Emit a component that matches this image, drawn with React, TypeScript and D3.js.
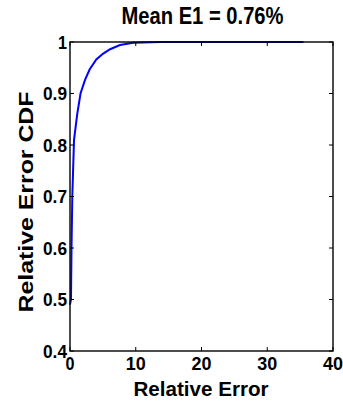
import React from "react";
import * as d3 from "d3";

const errX = [0, 0.15, 0.23, 0.35, 0.61, 1.1, 1.6, 2.3, 3.0, 4.0, 5.0, 6.1, 7.6, 9.6, 13.7, 20, 30, 35.5];
const cdfY = [0.49, 0.5, 0.6, 0.7, 0.81, 0.86, 0.9, 0.927, 0.947, 0.966, 0.977, 0.986, 0.994, 0.9985, 1.0, 1.0, 1.0, 1.0];
const xTicks = [0, 10, 20, 30, 40];
const yTicks = [0.4, 0.5, 0.6, 0.7, 0.8, 0.9, 1];
const yTickLabels = ["0.4", "0.5", "0.6", "0.7", "0.8", "0.9", "1"];
const titleText = "Mean E1 = 0.76%";
const xLabel = "Relative Error";
const yLabel = "Relative Error CDF";

export default function App() {
  const W = 343, H = 402;
  const left = 70, right = 333, top = 42, bottom = 351;
  const x = d3.scaleLinear().domain([0, 40]).range([left, right]);
  const y = d3.scaleLinear().domain([0.4, 1]).range([bottom, top]);
  const pts = errX.map((v, i) => [v, cdfY[i]] as [number, number]);
  const line = d3.line<[number, number]>().x(d => x(d[0])).y(d => y(d[1]));
  const font = "'Liberation Sans', Arial, Helvetica, sans-serif";
  const tick = 4;
  return (
    <svg width={W} height={H} style={{ position: "absolute", left: 0, top: 0, background: "#fff" }}>
      <rect x={0} y={0} width={W} height={H} fill="#fff" />
      <path d={line(pts) || ""} fill="none" stroke="#0000ff" strokeWidth={2} />
      <rect x={left} y={top} width={right - left} height={bottom - top} fill="none" stroke="#000" strokeWidth={1.4} />
      {xTicks.map(t => (
        <g key={"xt" + t}>
          <line x1={x(t)} x2={x(t)} y1={bottom} y2={bottom - tick} stroke="#000" strokeWidth={1} />
          <line x1={x(t)} x2={x(t)} y1={top} y2={top + tick} stroke="#000" strokeWidth={1} />
          <text x={x(t)} y={370} textAnchor="middle" fontFamily={font} fontWeight="bold" fontSize={18}
            textLength={t === 0 ? 9 : 20} lengthAdjust="spacingAndGlyphs">{t}</text>
        </g>
      ))}
      {yTicks.map((t, i) => (
        <g key={"yt" + t}>
          <line x1={left} x2={left + tick} y1={y(t)} y2={y(t)} stroke="#000" strokeWidth={1} />
          <line x1={right} x2={right - tick} y1={y(t)} y2={y(t)} stroke="#000" strokeWidth={1} />
          <text x={67} y={y(t) + 6.5} textAnchor="end" fontFamily={font} fontWeight="bold" fontSize={18}
            textLength={yTickLabels[i].length === 1 ? 9 : 24} lengthAdjust="spacingAndGlyphs">{yTickLabels[i]}</text>
        </g>
      ))}
      <text x={202.5} y={24} textAnchor="middle" fontFamily={font} fontWeight="bold" fontSize={23}
        textLength={162} lengthAdjust="spacingAndGlyphs">{titleText}</text>
      <text x={201} y={395.5} textAnchor="middle" fontFamily={font} fontWeight="bold" fontSize={19.5}
        textLength={135} lengthAdjust="spacingAndGlyphs">{xLabel}</text>
      <text transform={`translate(33.3,202) rotate(-90)`} textAnchor="middle" fontFamily={font} fontWeight="bold" fontSize={21}
        textLength={221} lengthAdjust="spacingAndGlyphs">{yLabel}</text>
    </svg>
  );
}
